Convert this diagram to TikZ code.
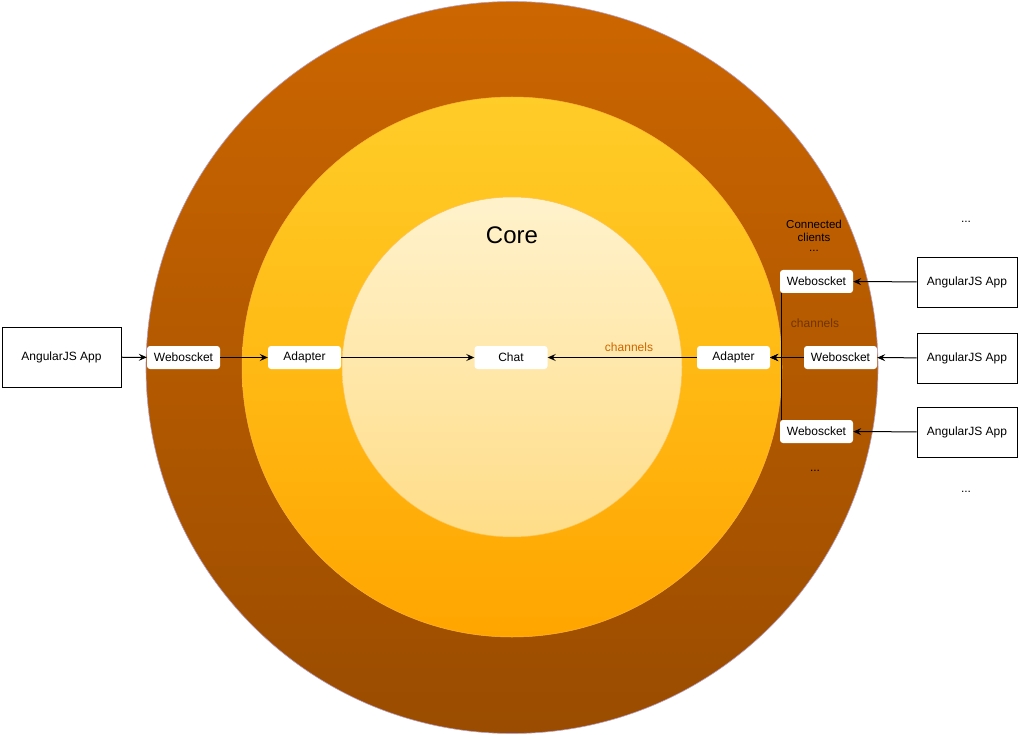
\documentclass[tikz,border=0pt]{standalone}
\usepackage{fontspec}
\setmainfont{Liberation Sans}
\usetikzlibrary{arrows.meta,calc}
\definecolor{outerTop}{HTML}{CC6600}
\definecolor{outerBot}{HTML}{9A4C00}
\definecolor{midTop}{HTML}{FFCD28}
\definecolor{midBot}{HTML}{FFA500}
\definecolor{inTop}{HTML}{FFF2CC}
\definecolor{inBot}{HTML}{FFDD88}
\definecolor{circEdge}{HTML}{B8A0C8}
\definecolor{chanOrange}{HTML}{CC6600}
\definecolor{chanBrown}{HTML}{6E3500}
\begin{document}
\begin{tikzpicture}[x=1pt,y=-1pt,
  every node/.style={font=\fontsize{12}{14}\selectfont},
  wbox/.style={fill=white, rounded corners=3pt, minimum width=73pt, minimum height=23pt, inner sep=0pt},
  appbox/.style={draw=black, fill=white, line width=0.9pt, minimum width=100pt, minimum height=50pt, inner sep=0pt},
  lbl/.style={inner sep=0pt},
  conn/.style={draw=black, line width=1pt, -{Stealth[length=8pt,width=7pt,inset=3pt]}},
  plain/.style={draw=black, line width=1pt}
]
\useasboundingbox (0,0) rectangle (1020,735);
% circles
\shade[top color=outerTop, bottom color=outerBot, draw=circEdge, line width=0.6pt] (512,367.5) circle[radius=366pt];
\shade[top color=midTop, bottom color=midBot, draw=midBot!80!white, line width=0.5pt] (512,367) circle[radius=270pt];
\shade[top color=inTop, bottom color=inBot, draw=midBot!70!white, line width=0.5pt] (512,367) circle[radius=170pt];

\node[lbl, font=\fontsize{24}{28}\selectfont] (core) at (512,235) {Core};

% left side
\node[appbox, minimum width=119pt, minimum height=60pt] (appL) at (61.5,357) {AngularJS App};
\node[wbox] (wsL) at (183.5,357.5) {Weboscket};
\node[wbox] (adL) at (304.5,357.5) {Adapter};
\node[wbox] (chat) at (511,357.5) {Chat};
\node[wbox] (adR) at (733.5,357.5) {Adapter};
\node[wbox] (wsM) at (840.5,357.5) {Weboscket};
\node[wbox] (wsT) at (816.5,281.5) {Weboscket};
\node[wbox] (wsB) at (816.5,431.5) {Weboscket};

\node[appbox] (appT) at (967,282) {AngularJS App};
\node[appbox] (appM) at (967,358) {AngularJS App};
\node[appbox] (appB) at (967,432) {AngularJS App};

% labels
\node[lbl, align=center, font=\fontsize{11.5}{13}\selectfont] (cc) at (814,236) {Connected\\clients\\[-3pt]...};
\node[lbl] (dotsTR) at (966,222) {...};
\node[lbl] (dotsBR) at (966,492) {...};
\node[lbl] (dotsB) at (815,471) {...};
\node[lbl, text=chanOrange] (chan1) at (629,347) {channels};
\node[lbl, text=chanBrown] (chan2) at (815,323) {channels};

% connectors
\draw[conn] (appL) -- (wsL);
\draw[conn] (wsL) -- (adL);
\draw[conn] (adL) -- (chat);
\draw[conn] (adR) -- (chat);
\draw[conn] (wsM) -- (adR);
\coordinate (jT) at ($(wsT.south west)+(1.5,0)$);
\coordinate (jB) at ($(wsB.north west)+(1.5,0)$);
\draw[conn] (jT) -- (jT |- adR.east) -- (adR.east);
\draw[conn] (jB) -- (jB |- adR.east) -- (adR.east);
\draw[conn] (appT) -- (wsT);
\draw[conn] (appM) -- (wsM);
\draw[conn] (appB) -- (wsB);
\end{tikzpicture}
\end{document}
